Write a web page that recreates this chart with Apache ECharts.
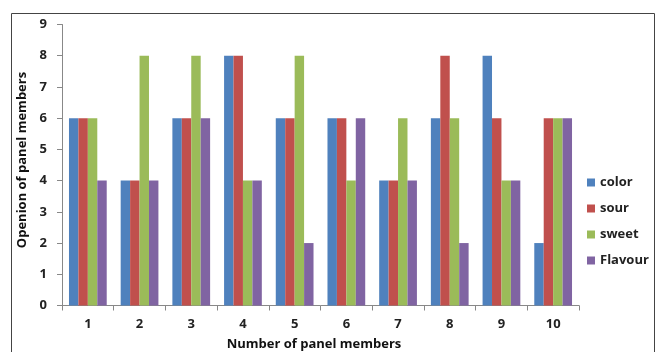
<!DOCTYPE html>
<html><head><meta charset="utf-8">
<script src="https://cdn.jsdelivr.net/npm/echarts@6/dist/echarts.min.js"></script>
<style>html,body{margin:0;padding:0;background:#fff}#c{width:660px;height:352px}</style>
</head><body><div id="c"></div>
<script>
const categories = ['1','2','3','4','5','6','7','8','9','10'];
const color = [6,4,6,8,6,6,4,6,8,2];
const sour = [6,4,6,8,6,6,4,8,6,6];
const sweet = [6,8,8,4,8,4,6,6,4,6];
const flavour = [4,4,6,4,2,6,4,2,4,6];
const seriesNames = ['color','sour','sweet','Flavour'];
const seriesColors = ['#4F81BD','#C0504D','#9BBB59','#8064A2'];
const seriesData = [color, sour, sweet, flavour];

const font = '"Open Sans", "Liberation Sans", sans-serif';
const chart = echarts.init(document.getElementById('c'));
chart.setOption({
  animation: false,
  textStyle: {fontFamily: font},
  grid: {left: 62, right: 81, top: 24.5, bottom: 46.5, containLabel: false, outerBoundsMode: 'none'},
  graphic: [{type:'rect', shape:{x:11.5,y:13.5,width:643,height:360}, style:{fill:'none', stroke:'#444', lineWidth:1}, silent:true}],
  legend: {
    orient: 'vertical', left: 582, top: 171, itemWidth: 8, itemHeight: 8, itemGap: 13,
    icon: 'rect',
    textStyle: {fontFamily: font, fontWeight: 'bold', fontSize: 13, color: '#222'},
    data: seriesNames
  },
  xAxis: {
    type: 'category', data: categories,
    name: 'Number of panel members', nameLocation: 'middle', nameGap: 32,
    nameTextStyle: {fontFamily: font, fontWeight: 'bold', fontSize: 13, color: '#111', padding: [0, 13, 0, 0]},
    axisLine: {lineStyle: {color: '#888'}},
    axisTick: {show: true, length: 5, lineStyle: {color: '#888'}},
    axisLabel: {fontFamily: font, fontWeight: 'bold', fontSize: 13, color: '#222', margin: 12}
  },
  yAxis: {
    type: 'value', min: 0, max: 9, interval: 1,
    name: 'Openion of panel members', nameLocation: 'middle', nameGap: 31,
    nameTextStyle: {fontFamily: font, fontWeight: 'bold', fontSize: 13, color: '#111', padding: [0, 0, 0, 10]},
    axisLine: {show: true, lineStyle: {color: '#888'}},
    axisTick: {show: true, length: 5, lineStyle: {color: '#888'}},
    splitLine: {show: false},
    axisLabel: {fontFamily: font, fontWeight: 'bold', fontSize: 13, color: '#222', margin: 15}
  },
  series: seriesNames.map((n, i) => ({
    name: n, type: 'bar', data: seriesData[i],
    barGap: '0%', barCategoryGap: '27%',
    itemStyle: {color: seriesColors[i]}
  }))
});
</script></body></html>
